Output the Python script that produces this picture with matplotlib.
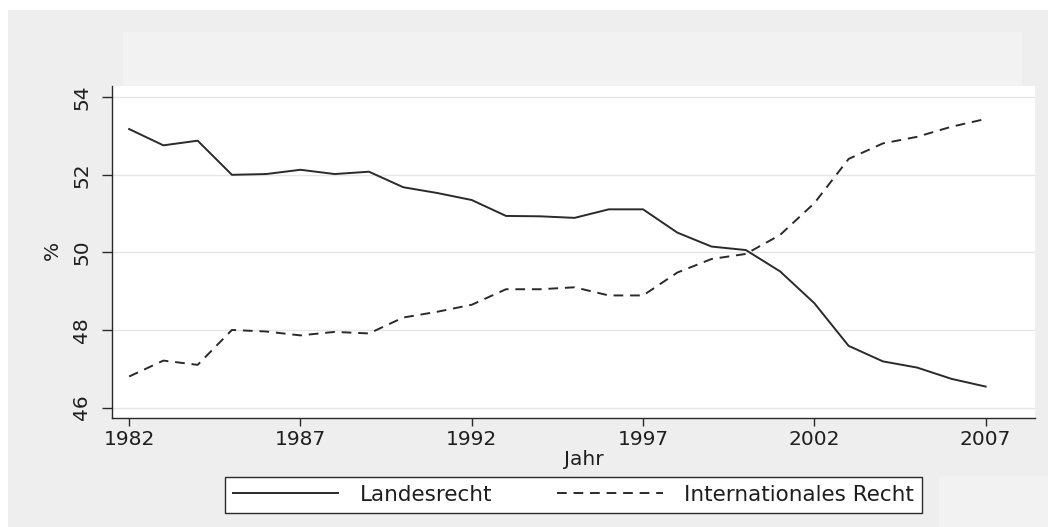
import matplotlib
matplotlib.use("Agg")
import matplotlib.pyplot as plt
from matplotlib.patches import Rectangle

# Share of decisions by source of law, in percent
years = list(range(1982, 2008))
landesrecht = [53.18, 52.76, 52.88, 52.00, 52.02, 52.13, 52.02, 52.08, 51.68, 51.53,
               51.35, 50.94, 50.93, 50.89, 51.11, 51.11, 50.51, 50.15, 50.06, 49.51,
               48.69, 47.59, 47.19, 47.03, 46.74, 46.54]
internationales_recht = [46.80, 47.21, 47.10, 48.00, 47.96, 47.86, 47.95, 47.91, 48.32, 48.47,
                         48.65, 49.05, 49.05, 49.10, 48.89, 48.89, 49.48, 49.83, 49.96, 50.45,
                         51.27, 52.41, 52.81, 52.98, 53.24, 53.44]
x_ticks = [1982, 1987, 1992, 1997, 2002, 2007]
y_ticks = [46, 48, 50, 52, 54]
series_labels = ["Landesrecht", "Internationales Recht"]
x_title = "Jahr"
y_title = "%"

W, H = 1048, 527
plt.rcParams["font.family"] = ["DejaVu Sans"]
FS = 14.5
LEG_FS = 15.5
INK = "#2a2a2a"
TXT = "#1e1e1e"

fig = plt.figure(figsize=(W / 100, H / 100), dpi=100, facecolor="white")


def px_rect(x0, y0, x1, y1, color):
    fig.patches.append(Rectangle((x0 / W, 1 - y1 / H), (x1 - x0) / W, (y1 - y0) / H,
                                 transform=fig.transFigure, facecolor=color,
                                 edgecolor="none", zorder=-10))


# graph region backgrounds
px_rect(8, 10, W, H, "#eeeeee")
px_rect(123, 32, 1022, 86, "#f2f2f2")
px_rect(939, 476, W, H, "#f2f2f2")

ax = fig.add_axes([112 / W, 1 - 418 / H, (1035 - 112) / W, (418 - 86) / H])
ax.set_facecolor("white")

ax.plot(years, landesrecht, color=INK, lw=1.4, label=series_labels[0])
ax.plot(years, internationales_recht, color=INK, lw=1.4, linestyle=(0, (5, 3.5)),
        label=series_labels[1])

ax.set_xlim(1981.5, 2008.44)
ax.set_ylim(45.73, 54.29)
ax.set_xticks(x_ticks)
ax.set_yticks(y_ticks)
ax.grid(axis="y", color="#e6e6e6", lw=1)
ax.set_axisbelow(True)

for side in ("top", "right"):
    ax.spines[side].set_visible(False)
for side in ("left", "bottom"):
    ax.spines[side].set_color(INK)
    ax.spines[side].set_linewidth(1.0)

ax.tick_params(axis="x", length=5.5, width=1, color=INK, pad=3,
               labelsize=FS, labelcolor=TXT)
ax.tick_params(axis="y", length=7, width=1, color=INK, pad=8,
               labelsize=FS, labelcolor=TXT)
for lab in ax.get_yticklabels():
    lab.set_rotation(90)
    lab.set_va("center")

ax.set_xlabel(x_title, fontsize=FS, color=TXT)
ax.xaxis.set_label_coords((584 - 112) / (1035 - 112), -(450 - 418) / (418 - 86))
ax.set_ylabel(y_title, fontsize=FS, color=TXT)
ax.yaxis.set_label_coords(-(112 - 62) / (1035 - 112), (418 - 250) / (418 - 86))

leg = fig.legend(loc="center", bbox_to_anchor=(573.5 / W, 1 - 495 / H), ncol=2,
                 fontsize=LEG_FS, frameon=True, fancybox=False, framealpha=1,
                 edgecolor=INK, facecolor="white", handlelength=4.9,
                 handletextpad=1.0, columnspacing=3.0, borderpad=0.35)
leg.get_frame().set_linewidth(1.0)
for t in leg.get_texts():
    t.set_color(TXT)

fig.savefig("out.png", dpi=100, facecolor=fig.get_facecolor())
